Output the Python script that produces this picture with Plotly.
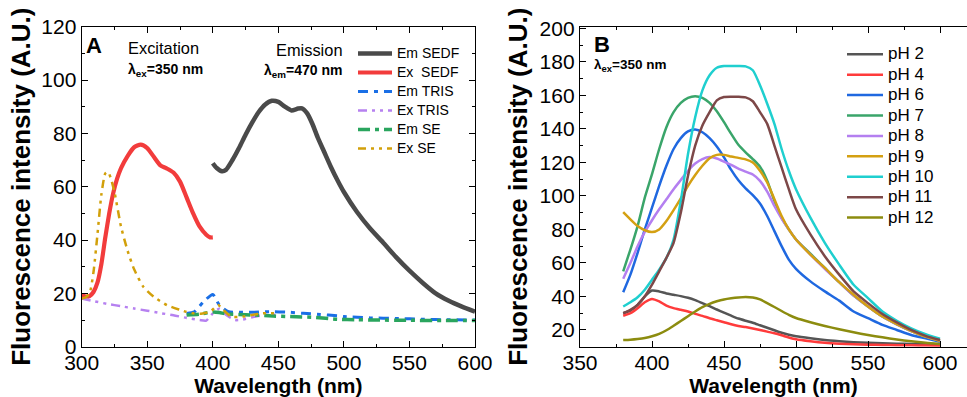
import plotly.graph_objects as go

# ---------------- Panel A data ----------------
em_sedf_x = [400, 403, 407, 410, 415, 420, 425, 430, 435, 440, 445, 450, 455, 460, 465, 468, 472, 476, 480, 485, 490, 495, 500, 510, 520, 530, 540, 550, 560, 570, 580, 590, 600]
em_sedf_y = [68.8, 67.0, 65.8, 66.3, 70.0, 74.5, 79.5, 84.0, 88.0, 90.8, 92.2, 91.8, 90.0, 88.6, 89.3, 89.4, 87.5, 83.5, 78.5, 73.0, 67.5, 62.5, 58.0, 50.5, 44.3, 39.0, 33.5, 28.5, 24.0, 20.0, 17.2, 15.0, 13.1]

ex_sedf_x = [300, 303, 306, 309, 312, 315, 318, 321, 324, 327, 330, 335, 340, 345, 350, 355, 360, 365, 370, 375, 380, 385, 390, 395, 398, 400]
ex_sedf_y = [19.4, 18.8, 19.0, 20.5, 24.0, 31.0, 41.0, 50.0, 57.5, 63.0, 67.0, 71.5, 74.8, 75.8, 74.5, 71.2, 68.0, 66.8, 65.3, 61.9, 56.0, 50.0, 45.0, 42.0, 41.0, 41.0]

em_tris_x = [380, 386, 393, 400, 405, 412, 420, 430, 443, 459, 469, 482, 495, 500, 520, 540, 560, 580, 600]
em_tris_y = [12.5, 13.1, 16.9, 19.6, 15.6, 13.1, 12.9, 12.9, 13.1, 12.9, 12.5, 12.1, 11.6, 11.3, 10.8, 10.6, 10.3, 10.1, 10.0]

ex_tris_x = [300, 310, 320, 330, 340, 350, 360, 370, 380, 390, 395, 400, 405, 410, 417, 423, 430, 440, 450]
ex_tris_y = [18.1, 17.0, 16.0, 15.2, 14.3, 13.5, 12.6, 11.8, 10.8, 10.0, 9.8, 12.5, 14.2, 12.0, 10.0, 10.2, 11.0, 11.9, 12.0]

em_se_x = [380, 390, 400, 405, 410, 420, 430, 446, 459, 477, 495, 510, 525, 550, 575, 600]
em_se_y = [11.9, 12.2, 13.0, 12.8, 12.3, 12.1, 11.9, 11.5, 11.3, 11.0, 10.3, 10.1, 10.0, 9.9, 9.8, 9.8]

ex_se_x = [300, 303, 306, 309, 312, 315, 318, 320, 322, 325, 330, 335, 340, 347, 355, 365, 375, 380, 386, 391, 398, 404, 408, 414, 423, 430, 438, 449]
ex_se_y = [18.1, 18.5, 20.0, 28.0, 42.0, 57.0, 65.0, 65.6, 63.5, 58.0, 45.0, 36.0, 29.0, 22.5, 18.7, 15.6, 13.8, 13.0, 12.5, 12.4, 13.1, 15.6, 13.8, 11.3, 11.3, 11.9, 12.5, 12.5]

# ---------------- Panel B data ----------------
wl_b = [380, 385, 390, 395, 400, 405, 410, 415, 420, 425, 430, 435, 440, 445, 450, 455, 460, 465, 470, 475, 480, 485, 490, 495, 500,
        510, 520, 530, 540, 550, 560, 570, 580, 590, 600]
ph2 = [30.0, 31.5, 35.0, 40.0, 43.5, 43.0, 41.8, 41.0, 40.2, 39.2, 37.8, 36.0, 34.2, 32.2, 30.3, 28.5, 26.8, 25.5, 24.3, 22.8, 21.3, 19.8, 18.3, 17.1, 16.2,
       15.0, 14.0, 13.3, 12.7, 12.3, 12.0, 11.8, 11.6, 11.5, 11.5]
ph4 = [28.5, 30.0, 33.0, 36.5, 38.5, 37.0, 34.5, 33.0, 32.0, 31.0, 29.6, 28.4, 27.0, 25.8, 24.6, 23.4, 22.4, 21.7, 20.9, 20.0, 19.0, 18.0, 16.8, 15.5, 14.4,
       13.2, 12.3, 11.8, 11.5, 11.2, 11.0, 10.9, 10.8, 10.7, 10.6]
ph6 = [42.5, 53.0, 66.0, 80.0, 93.0, 106.0, 118.0, 128.0, 134.5, 138.5, 139.6, 138.0, 134.5, 129.5, 123.0, 115.5, 109.3, 104.5, 100.5, 95.5, 88.0, 79.0, 70.0, 62.0, 56.5,
       49.0, 43.0, 37.5, 31.0, 27.0, 23.0, 20.0, 17.0, 15.0, 13.0]
ph7 = [55.0, 68.0, 82.0, 99.0, 113.0, 128.0, 141.0, 150.0, 155.5, 158.5, 159.5, 158.5, 155.5, 150.5, 144.0, 137.0, 130.5, 126.0, 122.0, 117.5, 109.0, 97.0, 87.0, 80.0, 74.0,
       65.5, 57.0, 48.5, 40.5, 34.0, 28.0, 23.3, 19.3, 16.0, 13.6]
ph8 = [50.5, 60.0, 70.0, 78.5, 85.5, 92.0, 98.0, 104.0, 109.5, 115.0, 119.3, 122.0, 123.2, 122.3, 120.5, 118.5, 116.3, 114.5, 112.8, 109.0, 102.5, 94.0, 86.5, 80.0, 74.0,
       65.0, 56.5, 48.5, 40.5, 34.0, 28.0, 23.3, 19.3, 16.0, 13.6]
ph9 = [90.3, 86.0, 82.0, 79.5, 78.4, 80.0, 85.0, 91.5, 98.5, 106.0, 112.5, 118.0, 122.5, 124.5, 124.5, 123.5, 122.7, 121.8, 120.0, 115.0, 108.0, 98.0, 88.0, 80.0, 74.0,
       65.0, 57.0, 48.5, 41.0, 34.0, 28.0, 23.5, 19.5, 16.0, 13.6]
ph10 = [34.0, 36.5, 39.5, 44.0, 50.0, 56.0, 63.0, 74.0, 97.0, 125.0, 147.0, 163.0, 172.0, 176.5, 177.5, 177.5, 177.5, 177.3, 175.0, 166.0, 155.0, 143.0, 128.0, 115.0, 104.0,
        87.0, 72.0, 59.0, 47.0, 39.0, 31.0, 25.5, 21.0, 17.5, 14.8]
ph11 = [30.0, 32.0, 35.0, 40.0, 47.0, 55.0, 63.0, 72.0, 90.0, 112.0, 130.0, 142.0, 150.0, 157.0, 159.0, 159.2, 159.2, 158.8, 156.5, 150.0, 143.0, 130.0, 117.0, 104.0, 92.0,
        77.0, 64.0, 53.0, 43.0, 36.0, 29.5, 24.5, 20.0, 16.5, 14.0]
ph12 = [14.0, 14.2, 14.6, 15.2, 16.2, 17.6, 19.8, 22.5, 25.3, 28.2, 31.0, 33.6, 35.6, 37.1, 38.2, 38.9, 39.4, 39.7, 39.4, 38.2, 36.0, 33.7, 31.3, 29.0, 27.1,
        24.6, 22.4, 20.4, 18.6, 17.0, 15.6, 14.3, 13.2, 12.3, 11.6]

ph_names = ["pH 2", "pH 4", "pH 6", "pH 7", "pH 8", "pH 9", "pH 10", "pH 11", "pH 12"]
ph_series = [ph2, ph4, ph6, ph7, ph8, ph9, ph10, ph11, ph12]
ph_colors = ["#555555", "#ff3b3b", "#1f68e0", "#3aa56a", "#b47ff0", "#d4a012", "#1fcfcf", "#7d4848", "#8c8c0f"]

W, H = 967, 397
def px(x):
    return x / W
def py(y):
    return 1 - y / H

FONT = "Liberation Sans, Arial"

fig = go.Figure()

a_traces = [
    ("Em SEDF", em_sedf_x, em_sedf_y, "#4a4a4a", "solid", 4.5),
    ("Ex  SEDF", ex_sedf_x, ex_sedf_y, "#f23c3c", "solid", 4.2),
    ("Em TRIS", em_tris_x, em_tris_y, "#1a6fe6", "10px,6px,4px,6px", 3),
    ("Ex TRIS", ex_tris_x, ex_tris_y, "#b681f0", "9px,5px,3px,5px,3px,5px", 2.5),
    ("Em SE", em_se_x, em_se_y, "#2aa55e", "12px,5px,4px,5px", 3.5),
    ("Ex SE", ex_se_x, ex_se_y, "#d2a00a", "8px,5px,3px,5px,3px,5px", 2.5),
]
for name, xs, ys, col, dash, w in a_traces:
    fig.add_trace(go.Scatter(x=xs, y=ys, name='<span style="font-size:14px">%s</span>' % name.replace("  ", "&nbsp; "),
                             mode="lines",
                             line=dict(color=col, width=w, dash=dash, shape="spline", smoothing=0.6),
                             xaxis="x", yaxis="y", legend="legend"))

for name, ys, col in zip(ph_names, ph_series, ph_colors):
    fig.add_trace(go.Scatter(x=wl_b, y=ys, name='<span style="font-size:17px">%s</span>' % name, mode="lines",
                             line=dict(color=col, width=2.5, shape="spline", smoothing=0.6),
                             xaxis="x2", yaxis="y2", legend="legend2"))

axis_common = dict(showline=True, linecolor="black", linewidth=1.3,
                   ticks="inside", ticklen=6, tickwidth=1.2, tickcolor="black",
                   showgrid=False, zeroline=False, automargin=False,
                   tickfont=dict(family=FONT, size=21, color="black"))
xtitle_font = dict(family=FONT, size=21, color="black")
ytitle_font = dict(family=FONT, size=26, color="black")
minor_x = dict(dtick=25, ticklen=3, ticks="inside", tickcolor="black")
minor_y = dict(dtick=10, ticklen=3, ticks="inside", tickcolor="black")

fig.update_layout(
    width=W, height=H, autosize=False,
    margin=dict(l=0, r=0, t=0, b=0, autoexpand=False),
    paper_bgcolor="white", plot_bgcolor="white",
    xaxis=dict(domain=[px(81.7), px(475)], range=[300, 600], dtick=50, anchor="y", minor=minor_x, mirror="allticks",
               ticklabelstandoff=-3,
               title=dict(text="<b>Wavelength (nm)</b>", font=xtitle_font, standoff=5), **axis_common),
    yaxis=dict(domain=[py(346.7), py(26.7)], range=[0, 120], dtick=20, anchor="x", minor=minor_y, mirror="allticks",
               title=dict(text="<b>Fluorescence intensity (A.U.)</b>", font=ytitle_font, standoff=3), **axis_common),
    xaxis2=dict(domain=[px(580), 1.0], range=[350, 618.75], tickvals=[350, 400, 450, 500, 550, 600], anchor="y2",
                minor=minor_x, mirror="allticks", ticklabelstandoff=-3,
                title=dict(text="<b>Wavelength (nm)</b>", font=xtitle_font, standoff=5), **axis_common),
    yaxis2=dict(domain=[py(346.7), py(26.7)], range=[10, 201], tickvals=[20, 40, 60, 80, 100, 120, 140, 160, 180, 200],
                anchor="x2", minor=minor_y, mirror=False,
                title=dict(text="<b>Fluorescence intensity (A.U.)</b>", font=ytitle_font, standoff=4), **axis_common),
    legend=dict(x=px(353), y=py(39), xanchor="left", yanchor="top", bgcolor="rgba(255,255,255,0)",
                font=dict(family=FONT, size=11, color="black"),
                itemwidth=34, tracegroupgap=0),
    legend2=dict(x=px(842), y=py(39), xanchor="left", yanchor="top", bgcolor="rgba(255,255,255,0)",
                 font=dict(family=FONT, size=13.4, color="black"),
                 itemwidth=36, tracegroupgap=0),
    showlegend=True,
)

annotations = [
    dict(x=px(84), y=py(45), text="<b>A</b>", font=dict(family=FONT, size=22, color="black"), xanchor="left", yanchor="middle"),
    dict(x=px(126), y=py(48), text="Excitation", font=dict(family=FONT, size=16.4, color="black"), xanchor="left", yanchor="middle"),
    dict(x=px(126), y=py(70), text="<b>λ<sub>ex</sub>=350 nm</b>", font=dict(family=FONT, size=14, color="black"), xanchor="left", yanchor="middle"),
    dict(x=px(345), y=py(50), text="Emission", font=dict(family=FONT, size=16.4, color="black"), xanchor="right", yanchor="middle"),
    dict(x=px(344), y=py(71), text="<b>λ<sub>em</sub>=470 nm</b>", font=dict(family=FONT, size=14, color="black"), xanchor="right", yanchor="middle"),
    dict(x=px(592), y=py(44), text="<b>B</b>", font=dict(family=FONT, size=22, color="black"), xanchor="left", yanchor="middle"),
    dict(x=px(592), y=py(65), text="<b>λ<sub>ex</sub>=350 nm</b>", font=dict(family=FONT, size=13.5, color="black"), xanchor="left", yanchor="middle"),
]
for a in annotations:
    a.update(xref="paper", yref="paper", showarrow=False)
fig.update_layout(annotations=annotations)

fig.write_html("out.html")
